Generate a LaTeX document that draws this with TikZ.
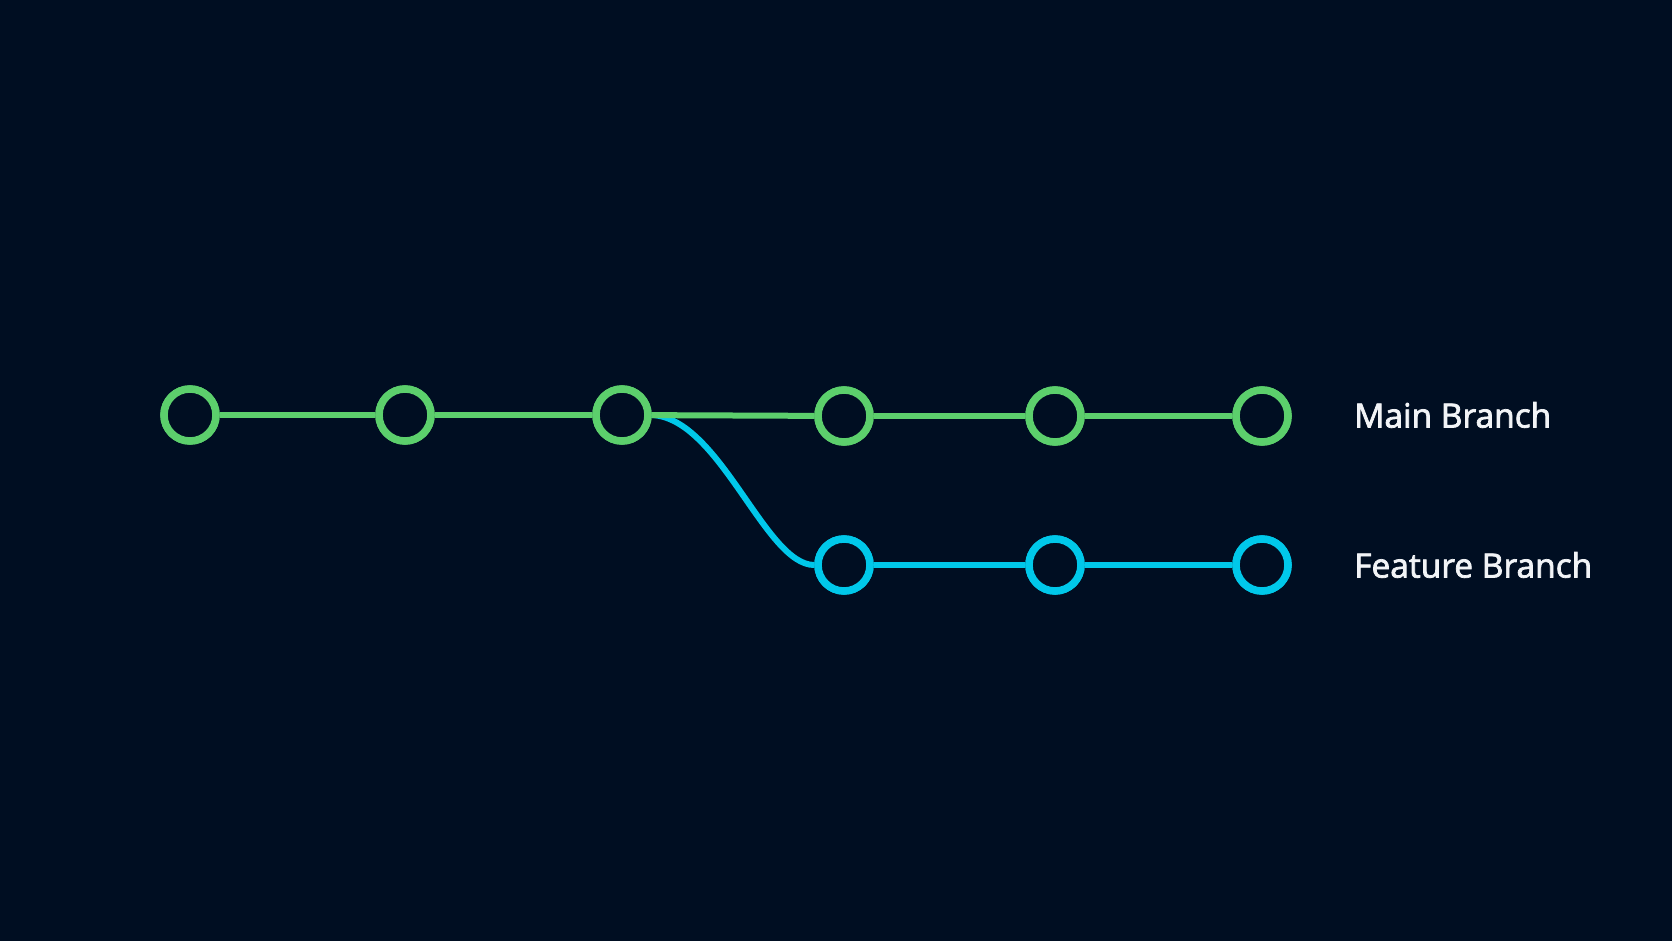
\documentclass[tikz,border=0pt]{standalone}
\usepackage{fontspec}
\setmainfont{Open Sans}
\definecolor{bg}{HTML}{000E22}
\definecolor{gitgreen}{HTML}{5CCF6C}
\definecolor{gitcyan}{HTML}{00C8EA}
\definecolor{labelwhite}{HTML}{F2F4F7}
\begin{document}
\begin{tikzpicture}[x=1pt,y=-1pt,
  commit/.style={circle,draw,fill=bg,line width=7.5pt,minimum size=52pt,inner sep=0pt},
  maincommit/.style={commit,draw=gitgreen},
  featcommit/.style={commit,draw=gitcyan},
  mainline/.style={draw=gitgreen,line width=6pt},
  featline/.style={draw=gitcyan,line width=6pt},
  branchlabel/.style={anchor=west,text=labelwhite,font=\fontsize{33.5}{40}\selectfont\addfontfeature{FakeBold=2.2},inner sep=0pt}]
\fill[bg] (0,0) rectangle (1672,941);
\useasboundingbox (0,0) rectangle (1672,941);
\coordinate (m1c) at (190,415);
\coordinate (m2c) at (405,415);
\coordinate (m3c) at (622,415);
\coordinate (m4c) at (844,416);
\coordinate (m5c) at (1055,416);
\coordinate (m6c) at (1262,416);
\coordinate (f1c) at (844,565);
\coordinate (f2c) at (1055,565);
\coordinate (f3c) at (1262,565);
\node[maincommit] (m1) at (m1c) {};
\node[maincommit] (m2) at (m2c) {};
\node[maincommit] (m3) at (m3c) {};
\node[maincommit] (m4) at (m4c) {};
\node[maincommit] (m5) at (m5c) {};
\node[maincommit] (m6) at (m6c) {};
\node[featcommit] (f1) at (f1c) {};
\node[featcommit] (f2) at (f2c) {};
\node[featcommit] (f3) at (f3c) {};
\path[featline] (m3.east) .. controls (720,418) and (765,565) .. (f1.west);
\path[mainline] (m1) -- (m2);
\path[mainline] (m2) -- (m3);
\path[mainline] (m3) -- (m4);
\path[mainline] (m4) -- (m5);
\path[mainline] (m5) -- (m6);
\path[featline] (f1) -- (f2);
\path[featline] (f2) -- (f3);
% redraw circles on top of the connectors
\node[maincommit] at (m1c) {};
\node[maincommit] at (m2c) {};
\node[maincommit] at (m3c) {};
\node[maincommit] at (m4c) {};
\node[maincommit] at (m5c) {};
\node[maincommit] at (m6c) {};
\node[featcommit] at (f1c) {};
\node[featcommit] at (f2c) {};
\node[featcommit] at (f3c) {};
\node[branchlabel] (lmain) at (1354,415) {Main Branch};
\node[branchlabel] (lfeat) at (1354,565) {Feature Branch};
\end{tikzpicture}
\end{document}
